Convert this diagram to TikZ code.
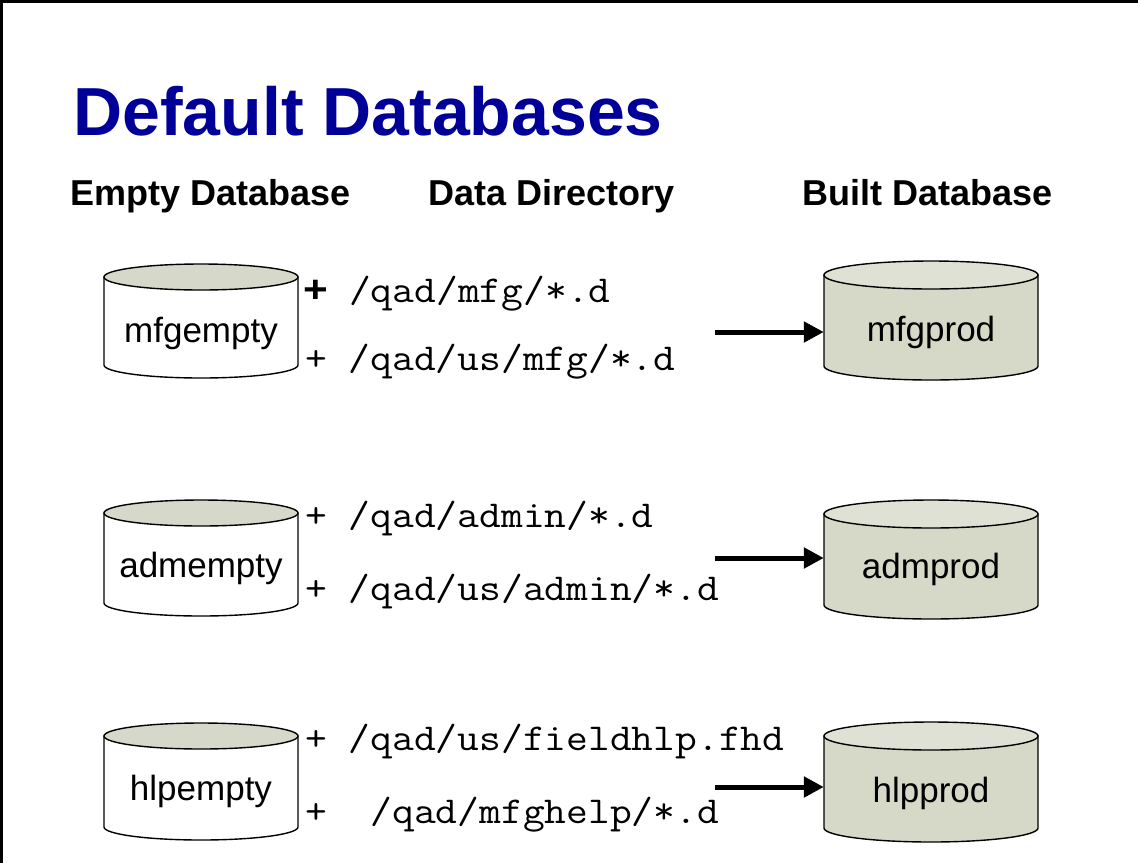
\documentclass[tikz,border=0pt]{standalone}
\usepackage{fontspec}
\setmainfont{Liberation Sans}
\usepackage{graphicx}
\usepackage{tikz}
\usetikzlibrary{arrows.meta, positioning}
\usepackage{xcolor}
\definecolor{titleblue}{RGB}{0,0,153}
\definecolor{dbtop}{RGB}{214,216,201}
\definecolor{dbbody}{RGB}{214,216,200}
\definecolor{prodtop}{RGB}{224,225,213}
\newcommand{\boldplus}{\makebox[19.95pt]{\rmfamily\bfseries +}}
\newcommand{\dirpath}[1]{\scalebox{1.113}[1]{#1}}
\tikzset{
	cylline/.style={draw, line width=1.4pt},
	title/.style={font=\fontsize{68}{80}\selectfont\bfseries, text=titleblue, inner sep=0pt},
	header/.style={font=\fontsize{36}{42}\selectfont\bfseries, inner sep=0pt},
	dblabel/.style={font=\fontsize{35}{40}\selectfont, inner sep=0pt},
	source/.style={font=\fontsize{38}{44}\selectfont\ttfamily, inner sep=0pt, anchor=base west},
	flow/.style={-{Triangle[length=20pt, width=20pt]}, line width=5pt}
}

\begin{document}
\begin{tikzpicture}[x=1pt, y=-1pt]
		\useasboundingbox (0,0) rectangle (1138,863);
		
		% Frame
		\draw[line width=3pt] (0,1.5) -- (1138,1.5);
		\draw[line width=3pt] (1.5,0) -- (1.5,863);
		
		% Title and column headers
		\node[title, anchor=base] (title) at (368,135) {Default Databases};
		\node[header, anchor=base] (emptyhead) at (211,205) {Empty Database};
		\node[header, anchor=base] (datahead) at (552,205) {Data Directory};
		\node[header, anchor=base] (builthead) at (928,205) {Built Database};
		
		% Empty databases
		\foreach \yt/\yb in {277/365, 513/603, 736/827} {
			\draw[cylline, fill=white] (104,\yt) -- (104,\yb) arc[start angle=180, end angle=360, x radius=97pt, y radius=13pt] -- (298,\yt) -- cycle;
			\draw[cylline, fill=dbtop] (201,\yt) ellipse[x radius=97pt, y radius=13pt];
		}
		\node[dblabel, anchor=base] (mfgempty) at (201,342) {mfgempty};
		\node[dblabel, anchor=base] (admempty) at (201,577) {admempty};
		\node[dblabel, anchor=base] (hlpempty) at (201,800) {hlpempty};
		
		% Built databases
		\foreach \yt/\yb in {275/366, 514/605, 736/828} {
			\draw[cylline, fill=dbbody] (824,\yt) -- (824,\yb) arc[start angle=180, end angle=360, x radius=107pt, y radius=14pt] -- (1038,\yt) -- cycle;
			\draw[cylline, fill=prodtop] (931,\yt) ellipse[x radius=107pt, y radius=14pt];
		}
		\node[dblabel, anchor=base, minimum width=214pt] (mfgprod) at (931,341) {mfgprod};
		\node[dblabel, anchor=base, minimum width=214pt] (admprod) at (931,578) {admprod};
		\node[dblabel, anchor=base, minimum width=214pt] (hlpprod) at (931,802) {hlpprod};
		
		% Data directories
		\node[source] (mfgdir) at (305,302) {\dirpath{\boldplus\ /qad/mfg/*.d}};
		\node[source] (usmfgdir) at (305,370) {\dirpath{+ /qad/us/mfg/*.d}};
		\node[source] (admdir) at (305,527) {\dirpath{+ /qad/admin/*.d}};
		\node[source] (usadmdir) at (305,600) {\dirpath{+ /qad/us/admin/*.d}};
		\node[source] (fhddir) at (305,750) {\dirpath{+ /qad/us/fieldhlp.fhd}};
		\node[source] (helpdir) at (305,823) {\dirpath{+~~/qad/mfghelp/*.d}};
		
		% Arrows
		\coordinate (mfgfrom) at (715,332);
		\coordinate (admfrom) at (715,558);
		\coordinate (hlpfrom) at (715,787);
		\draw[flow] (mfgfrom) -- (mfgfrom -| mfgprod.west);
		\draw[flow] (admfrom) -- (admfrom -| admprod.west);
		\draw[flow] (hlpfrom) -- (hlpfrom -| hlpprod.west);
	\end{tikzpicture}
\end{document}
